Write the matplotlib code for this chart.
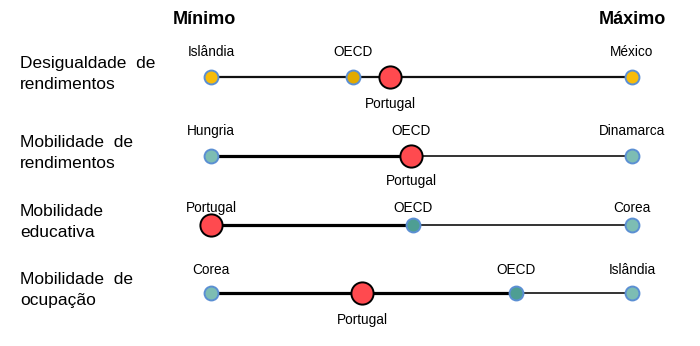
import matplotlib
matplotlib.use("Agg")
import matplotlib.pyplot as plt

plt.rcParams['font.family'] = ['Liberation Sans', 'DejaVu Sans']

# ---- data (normalised position between minimum=0 and maximum=1) ----
indicators = ["Desigualdade  de\nrendimentos",
              "Mobilidade  de\nrendimentos",
              "Mobilidade\neducativa",
              "Mobilidade  de\nocupação"]
min_country = ["Islândia", "Hungria", "Portugal", "Corea"]
max_country = ["México", "Dinamarca", "Corea", "Islândia"]
oecd_value = [0.337, 0.475, 0.48, 0.724]
portugal_value = [0.425, 0.475, 0.0, 0.359]
min_value = [0.0, 0.0, 0.0, 0.0]
max_value = [1.0, 1.0, 1.0, 1.0]

# ---- layout ----
W, H = 700, 346
row_y = [77, 156, 225, 293]
above_off = [-25, -25, -17, -23]
below_off = [27, 25, 27, 27]
point_color = ["#F7BC0A", "#7DBDB3", "#7DBDB3", "#7DBDB3"]
oecd_color = ["#E2AA00", "#4E9E93", "#4E9E93", "#4E9E93"]
edge_blue = "#5B8FD3"
red = "#FF4A4F"

fig = plt.figure(figsize=(W / 100, H / 100), dpi=100)
ax = fig.add_axes([211 / W, 0, (632 - 211) / W, 1])
ax.set_xlim(0, 1)
ax.set_ylim(H, 0)
ax.axis("off")

lbl_fs = 9.8
for i in range(4):
    y = row_y[i]
    lo, hi = min_value[i], max_value[i]
    pt, oe = portugal_value[i], oecd_value[i]
    if i == 0:
        ax.plot([lo, hi], [y, y], color="#111111", lw=1.6, zorder=1, solid_capstyle="butt", clip_on=False)
    else:
        mid = max(pt, oe)
        ax.plot([lo, mid], [y, y], color="#000000", lw=2.3, zorder=1, solid_capstyle="butt", clip_on=False)
        ax.plot([mid, hi], [y, y], color="#333333", lw=1.4, zorder=1, solid_capstyle="butt", clip_on=False)
    # endpoints
    for v in (lo, hi):
        if not (v == pt):
            ax.plot(v, y, "o", ms=10, mfc=point_color[i], mec=edge_blue, mew=1.4, zorder=3, clip_on=False)
    # OECD
    ax.plot(oe, y, "o", ms=10, mfc=oecd_color[i], mec=edge_blue, mew=1.4, zorder=3, clip_on=False)
    # Portugal
    ax.plot(pt, y, "o", ms=16, mfc=red, mec="#000000", mew=1.4, zorder=4, clip_on=False)

    # labels
    if min_country[i] != "Portugal":
        ax.text(lo, y + above_off[i], min_country[i], ha="center", va="center", fontsize=lbl_fs, clip_on=False)
    ax.text(hi, y + above_off[i], max_country[i], ha="center", va="center", fontsize=lbl_fs, clip_on=False)
    ax.text(oe, y + above_off[i], "OECD", ha="center", va="center", fontsize=lbl_fs, clip_on=False)
    if pt == lo and min_country[i] == "Portugal":
        ax.text(pt, y + above_off[i], "Portugal", ha="center", va="center", fontsize=lbl_fs, clip_on=False)
    else:
        ax.text(pt, y + below_off[i], "Portugal", ha="center", va="center", fontsize=lbl_fs, clip_on=False)

    # indicator text
    fig.text(20 / W, 1 - (y - 3) / H, indicators[i], ha="left", va="center",
             fontsize=12.5, linespacing=1.45)

# headers
ax.text(-0.015, 20, "Mínimo", ha="center", va="center", fontsize=13, fontweight="bold", clip_on=False)
ax.text(1.0, 20, "Máximo", ha="center", va="center", fontsize=13, fontweight="bold", clip_on=False)

fig.savefig("out.png", dpi=100, facecolor="white")
